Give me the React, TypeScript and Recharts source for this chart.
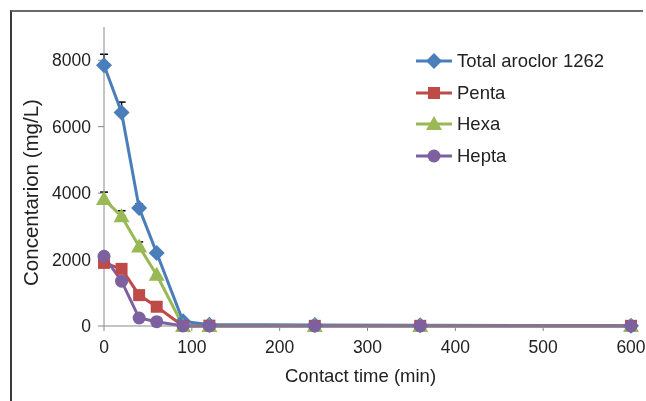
import React from "react";
import { LineChart, Line, XAxis, YAxis, ErrorBar } from "recharts";

const times = [0, 20, 40, 60, 90, 120, 240, 360, 600];
const total = [7850, 6430, 3550, 2200, 140, 40, 30, 20, 10];
const penta = [1900, 1720, 930, 580, 0, 10, 5, 5, 5];
const hexa = [3820, 3300, 2390, 1540, 0, 0, 0, 0, 0];
const hepta = [2100, 1350, 240, 130, 0, 0, 0, 0, 0];
const totalErr = [330, 310, 120, 0, 0, 0, 0, 0, 0];
const hexaErr = [210, 170, 140, 0, 0, 0, 0, 0, 0];

const xTicks = [0, 100, 200, 300, 400, 500, 600];
const yTicks = [0, 2000, 4000, 6000, 8000];

type Shape = "diamond" | "square" | "triangle" | "circle";

const series: { key: string; name: string; color: string; shape: Shape }[] = [
  { key: "total", name: "Total aroclor 1262", color: "#4A7EBB", shape: "diamond" },
  { key: "penta", name: "Penta", color: "#BE4B48", shape: "square" },
  { key: "hexa", name: "Hexa", color: "#98B954", shape: "triangle" },
  { key: "hepta", name: "Hepta", color: "#7D60A0", shape: "circle" },
];

const data = times.map((t, i) => ({
  time: t,
  total: total[i],
  penta: penta[i],
  hexa: hexa[i],
  hepta: hepta[i],
  totalErr: [0, totalErr[i]],
  hexaErr: [0, hexaErr[i]],
}));

const FONT = "'Liberation Sans', Arial, sans-serif";

function marker(shape: Shape, cx: number, cy: number, color: string, key?: string | number) {
  if (shape === "diamond")
    return <path key={key} d={`M${cx},${cy - 8}L${cx + 8},${cy}L${cx},${cy + 8}L${cx - 8},${cy}Z`} fill={color} />;
  if (shape === "square")
    return <rect key={key} x={cx - 6} y={cy - 6} width={12} height={12} fill={color} />;
  if (shape === "triangle")
    return <path key={key} d={`M${cx},${cy - 8}L${cx + 8},${cy + 6}L${cx - 8},${cy + 6}Z`} fill={color} />;
  return <circle key={key} cx={cx} cy={cy} r={6.5} fill={color} />;
}

const makeDot = (shape: Shape, color: string) => (p: any) =>
  marker(shape, p.cx, p.cy, color, p.index);

function LegendBox() {
  return (
    <div style={{ position: "absolute", left: 406, top: 35, fontFamily: FONT, fontSize: 18.5, color: "#222" }}>
      {series.map((s) => (
        <div key={s.key} style={{ display: "flex", alignItems: "center", height: 31.7 }}>
          <svg width={37} height={18} style={{ marginRight: 4 }}>
            <line x1={0} y1={9} x2={36} y2={9} stroke={s.color} strokeWidth={3} />
            {marker(s.shape, 18, 9, s.color)}
          </svg>
          <span>{s.name}</span>
        </div>
      ))}
    </div>
  );
}

export default function App() {
  return (
    <div
      style={{
        position: "fixed",
        left: 10,
        top: 10,
        width: 633,
        height: 391,
        borderTop: "2px solid #6b6b6b",
        borderLeft: "2px solid #3a3a3a",
        boxSizing: "border-box",
      }}
    >
      <div style={{ position: "absolute", left: -2, top: -2 }}>
        <LineChart
          width={636}
          height={391}
          data={data}
          margin={{ top: 17, right: 15, left: 0, bottom: 30 }}
          style={{ fontFamily: FONT }}
        >
          <XAxis
            dataKey="time"
            type="number"
            domain={[0, 600]}
            ticks={xTicks}
            stroke="#888"
            tickSize={5}
            tickMargin={10}
            height={45}
            tick={{ fill: "#222", fontSize: 17.5 }}
            label={{ value: "Contact time (min)", position: "insideBottom", offset: -11, dx: -7, fill: "#222", fontSize: 18.5 }}
          />
          <YAxis
            type="number"
            domain={[0, 9000]}
            ticks={yTicks}
            width={94}
            stroke="#888"
            tickSize={6}
            tickMargin={7}
            tick={{ fill: "#222", fontSize: 17.5 }}
            label={{ value: "Concentarion (mg/L)", angle: -90, position: "insideLeft", offset: 21, dy: 16, fill: "#222", fontSize: 20.5, style: { textAnchor: "middle" } }}
          />
          {series.map((s) => (
            <Line
              key={s.key}
              dataKey={s.key}
              name={s.name}
              stroke={s.color}
              strokeWidth={3}
              isAnimationActive={false}
              dot={makeDot(s.shape, s.color)}
              activeDot={false}
            >
              {s.key === "total" && <ErrorBar dataKey="totalErr" width={4} stroke="#000" strokeWidth={1.5} direction="y" />}
              {s.key === "hexa" && <ErrorBar dataKey="hexaErr" width={4} stroke="#000" strokeWidth={1.5} direction="y" />}
            </Line>
          ))}
        </LineChart>
        <LegendBox />
      </div>
    </div>
  );
}
